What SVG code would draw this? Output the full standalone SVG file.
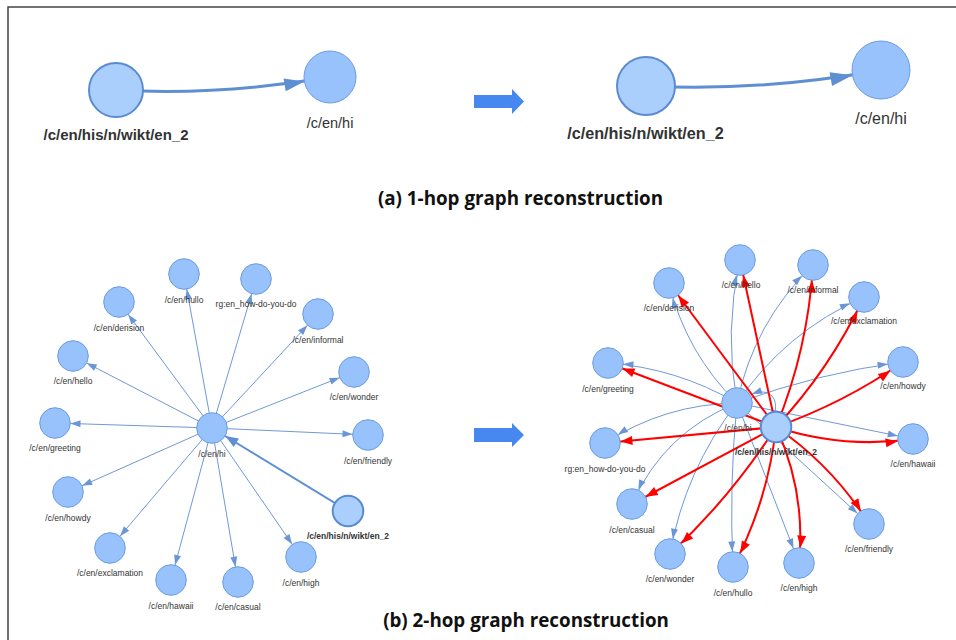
<svg xmlns="http://www.w3.org/2000/svg" width="956" height="640" viewBox="0 0 956 640">
<style>
.n{fill:#97c2fc;stroke:#6b9be0;stroke-width:1}
.ns{fill:#abcffc;stroke:#5a8bd2;stroke-width:2}
.lb{font-family:"Liberation Sans",Arial,sans-serif;font-size:8.5px;fill:#333;text-anchor:middle}
.lbb{font-family:"Liberation Sans",Arial,sans-serif;font-size:8.5px;font-weight:700;fill:#333;text-anchor:middle}
.cap{font-family:"Open Sans",sans-serif;font-weight:700;font-size:18.8px;fill:#111;text-anchor:middle}
.eb{fill:none;stroke:#7098d6;stroke-width:1}
.ebt{fill:none;stroke:#5f8fd3;stroke-width:2}
.er{fill:none;stroke:#ff0000;stroke-width:2}
.et{fill:none;stroke:#5f8fd3;stroke-width:3}
.big{fill:#4688f0}
</style>
<defs>
<marker id="mT1" markerUnits="userSpaceOnUse" orient="auto" markerWidth="20" markerHeight="13" refX="46" refY="6.5" style="overflow:visible"><path d="M0,0 L20,6.5 L0,13 z" fill="#5f8fd3"/></marker>
<marker id="mT2" markerUnits="userSpaceOnUse" orient="auto" markerWidth="22" markerHeight="14" refX="51" refY="7" style="overflow:visible"><path d="M0,0 L22,7 L0,14 z" fill="#5f8fd3"/></marker>
<marker id="mB" markerUnits="userSpaceOnUse" orient="auto" markerWidth="10" markerHeight="7" refX="25.5" refY="3.5" style="overflow:visible"><path d="M0,0 L10,3.5 L0,7 z" fill="#6b96d6"/></marker>
<marker id="mBT" markerUnits="userSpaceOnUse" orient="auto" markerWidth="13" markerHeight="10" refX="28.5" refY="5" style="overflow:visible"><path d="M0,0 L13,5 L0,10 z" fill="#5f8fd3"/></marker>
<marker id="mR" markerUnits="userSpaceOnUse" orient="auto" markerWidth="12" markerHeight="9" refX="27.5" refY="4.5" style="overflow:visible"><path d="M0,0 L12,4.5 L0,9 z" fill="#ff0000"/></marker>
<marker id="mL" markerUnits="userSpaceOnUse" orient="auto" markerWidth="10" markerHeight="7" refX="10" refY="3.5" style="overflow:visible"><path d="M0,0 L10,3.5 L0,7 z" fill="#6b96d6"/></marker>
</defs>

<g id="frame" fill="none" stroke="#444" stroke-width="1.5">
<path d="M8,640 L8,7 L956,7"/>
</g>

<polygon class="big" points="474,95 512,95 512,89 524,101.5 512,114 512,108 474,108"/>
<polygon class="big" points="474,428 512,428 512,423 524,435 512,447 512,442 474,442"/>

<text class="cap" x="520.5" y="205">(a) 1-hop graph reconstruction</text>
<text class="cap" x="526" y="627">(b) 2-hop graph reconstruction</text>

<g id="connectors">
<!-- top -->
<path class="et" d="M116,90 Q220,96 330,77" marker-end="url(#mT1)"/>
<path class="et" d="M646,86 Q760,92 881,70" marker-end="url(#mT2)"/>
<!-- bottom left -->
<path class="eb" d="M212,428 L184,274" marker-end="url(#mB)"/>
<path class="eb" d="M212,428 L256,279" marker-end="url(#mB)"/>
<path class="eb" d="M212,428 L119,302" marker-end="url(#mB)"/>
<path class="eb" d="M212,428 L318,314" marker-end="url(#mB)"/>
<path class="eb" d="M212,428 L73,356" marker-end="url(#mB)"/>
<path class="eb" d="M212,428 L354,372" marker-end="url(#mB)"/>
<path class="eb" d="M212,428 L55,423" marker-end="url(#mB)"/>
<path class="eb" d="M212,428 L368,435" marker-end="url(#mB)"/>
<path class="eb" d="M212,428 L68,492" marker-end="url(#mB)"/>
<path class="eb" d="M212,428 L110,548" marker-end="url(#mB)"/>
<path class="eb" d="M212,428 L301,557" marker-end="url(#mB)"/>
<path class="eb" d="M212,428 L171,580" marker-end="url(#mB)"/>
<path class="eb" d="M212,428 L238,582" marker-end="url(#mB)"/>
<path class="ebt" d="M348,511 L212,428" marker-end="url(#mBT)"/>
<!-- bottom right: blue from hi -->
<path class="eb" d="M737,403 Q724,331 740,260" marker-end="url(#mB)"/>
<path class="eb" d="M737,403 Q686,353 669,283" marker-end="url(#mB)"/>
<path class="eb" d="M737,403 Q754,322 813,265" marker-end="url(#mB)"/>
<path class="eb" d="M737,403 Q785,332 864,297" marker-end="url(#mB)"/>
<path class="eb" d="M737,403 Q818,373 903,362" marker-end="url(#mB)"/>
<path class="eb" d="M737,403 Q677,368 608,363" marker-end="url(#mB)"/>
<path class="eb" d="M737,403 L913,439" marker-end="url(#mB)"/>
<path class="eb" d="M737,403 Q665,404 605,443" marker-end="url(#mB)"/>
<path class="eb" d="M737,403 Q664,432 632,504" marker-end="url(#mB)"/>
<path class="eb" d="M737,403 Q685,470 670,554" marker-end="url(#mB)"/>
<path class="eb" d="M737,403 Q729,485 733,567" marker-end="url(#mB)"/>
<path class="eb" d="M737,403 L799,563" marker-end="url(#mB)"/>
<path class="eb" d="M737,403 L869,524" marker-end="url(#mB)"/>
<path class="eb" d="M775,412 C778,396 768,388 752,394" marker-end="url(#mL)"/>
<!-- bottom right: red from en_2 -->
<path class="er" d="M776,427 L669,283" marker-end="url(#mR)"/>
<path class="er" d="M776,427 L740,260" marker-end="url(#mR)"/>
<path class="er" d="M776,427 Q808,349 813,265" marker-end="url(#mR)"/>
<path class="er" d="M776,427 Q830,369 864,297" marker-end="url(#mR)"/>
<path class="er" d="M776,427 Q844,403 903,362" marker-end="url(#mR)"/>
<path class="er" d="M776,427 Q843,449 913,439" marker-end="url(#mR)"/>
<path class="er" d="M776,427 L608,363" marker-end="url(#mR)"/>
<path class="er" d="M776,427 L605,443" marker-end="url(#mR)"/>
<path class="er" d="M776,427 L632,504" marker-end="url(#mR)"/>
<path class="er" d="M776,427 Q731,497 670,554" marker-end="url(#mR)"/>
<path class="er" d="M776,427 Q768,501 733,567" marker-end="url(#mR)"/>
<path class="er" d="M776,427 Q806,492 799,563" marker-end="url(#mR)"/>
<path class="er" d="M776,427 Q833,466 869,524" marker-end="url(#mR)"/>
</g>

<!-- top graph nodes -->
<g id="t1-en2"><circle class="ns" cx="116" cy="90" r="27"/><text x="116" y="140" font-family="Liberation Sans,Arial,sans-serif" font-size="15" font-weight="700" fill="#333" text-anchor="middle">/c/en/his/n/wikt/en_2</text></g>
<g id="t1-hi"><circle class="n" cx="330" cy="77" r="26"/><text x="330" y="128" font-family="Liberation Sans,Arial,sans-serif" font-size="14.5" fill="#333" text-anchor="middle">/c/en/hi</text></g>
<g id="t2-en2"><circle class="ns" cx="646" cy="86" r="29"/><text x="645.5" y="139" font-family="Liberation Sans,Arial,sans-serif" font-size="16.2" font-weight="700" fill="#333" text-anchor="middle">/c/en/his/n/wikt/en_2</text></g>
<g id="t2-hi"><circle class="n" cx="881" cy="70" r="29"/><text x="881" y="124" font-family="Liberation Sans,Arial,sans-serif" font-size="16" fill="#333" text-anchor="middle">/c/en/hi</text></g>

<!-- bottom left nodes -->
<g id="l-hullo"><circle class="n" cx="184" cy="274" r="15.3"/><text class="lb" x="184" y="303">/c/en/hullo</text></g>
<g id="l-howdo"><circle class="n" cx="256" cy="279" r="15.3"/><text class="lb" x="256" y="307">rg:en_how-do-you-do</text></g>
<g id="l-derision"><circle class="n" cx="119" cy="302" r="15.3"/><text class="lb" x="119" y="331">/c/en/derision</text></g>
<g id="l-informal"><circle class="n" cx="318" cy="314" r="15.3"/><text class="lb" x="318" y="343">/c/en/informal</text></g>
<g id="l-hello"><circle class="n" cx="73" cy="356" r="15.3"/><text class="lb" x="73" y="384">/c/en/hello</text></g>
<g id="l-wonder"><circle class="n" cx="354" cy="372" r="15.3"/><text class="lb" x="354" y="400">/c/en/wonder</text></g>
<g id="l-greeting"><circle class="n" cx="55" cy="423" r="15.3"/><text class="lb" x="55" y="451">/c/en/greeting</text></g>
<g id="l-friendly"><circle class="n" cx="368" cy="435" r="15.3"/><text class="lb" x="368" y="464">/c/en/friendly</text></g>
<g id="l-hi"><circle class="n" cx="212" cy="428" r="15.3"/><text class="lb" x="212" y="457">/c/en/hi</text></g>
<g id="l-howdy"><circle class="n" cx="68" cy="492" r="15.3"/><text class="lb" x="68" y="521">/c/en/howdy</text></g>
<g id="l-en2"><circle class="ns" cx="348" cy="511" r="15.3"/><text class="lbb" x="348" y="539">/c/en/his/n/wikt/en_2</text></g>
<g id="l-exclamation"><circle class="n" cx="110" cy="548" r="15.3"/><text class="lb" x="110" y="576">/c/en/exclamation</text></g>
<g id="l-high"><circle class="n" cx="301" cy="557" r="15.3"/><text class="lb" x="301" y="586">/c/en/high</text></g>
<g id="l-hawaii"><circle class="n" cx="171" cy="580" r="15.3"/><text class="lb" x="171" y="609">/c/en/hawaii</text></g>
<g id="l-casual"><circle class="n" cx="238" cy="582" r="15.3"/><text class="lb" x="238" y="610">/c/en/casual</text></g>

<!-- bottom right nodes -->
<g id="r-hello"><circle class="n" cx="740" cy="260" r="15.3"/><text class="lb" x="741" y="288">/c/en/hello</text></g>
<g id="r-informal"><circle class="n" cx="813" cy="265" r="15.3"/><text class="lb" x="813" y="293">/c/en/informal</text></g>
<g id="r-derision"><circle class="n" cx="669" cy="283" r="15.3"/><text class="lb" x="669" y="311">/c/en/derision</text></g>
<g id="r-exclamation"><circle class="n" cx="864" cy="297" r="15.3"/><text class="lb" x="864" y="324">/c/en/exclamation</text></g>
<g id="r-greeting"><circle class="n" cx="608" cy="363" r="15.3"/><text class="lb" x="608" y="392">/c/en/greeting</text></g>
<g id="r-howdy"><circle class="n" cx="903" cy="362" r="15.3"/><text class="lb" x="903" y="389">/c/en/howdy</text></g>
<g id="r-hi"><circle class="n" cx="737" cy="403" r="15.3"/><text class="lb" x="738" y="431">/c/en/hi</text></g>
<g id="r-howdo"><circle class="n" cx="605" cy="443" r="15.3"/><text class="lb" x="605" y="472">rg:en_how-do-you-do</text></g>
<g id="r-hawaii"><circle class="n" cx="913" cy="439" r="15.3"/><text class="lb" x="913" y="467">/c/en/hawaii</text></g>
<g id="r-en2"><circle class="ns" cx="776" cy="427" r="15.3"/><text class="lbb" x="776" y="455">/c/en/his/n/wikt/en_2</text></g>
<g id="r-casual"><circle class="n" cx="632" cy="504" r="15.3"/><text class="lb" x="632" y="533">/c/en/casual</text></g>
<g id="r-friendly"><circle class="n" cx="869" cy="524" r="15.3"/><text class="lb" x="869" y="552">/c/en/friendly</text></g>
<g id="r-wonder"><circle class="n" cx="670" cy="554" r="15.3"/><text class="lb" x="670" y="582">/c/en/wonder</text></g>
<g id="r-hullo"><circle class="n" cx="733" cy="567" r="15.3"/><text class="lb" x="733" y="596">/c/en/hullo</text></g>
<g id="r-high"><circle class="n" cx="799" cy="563" r="15.3"/><text class="lb" x="799" y="591">/c/en/high</text></g>
</svg>
